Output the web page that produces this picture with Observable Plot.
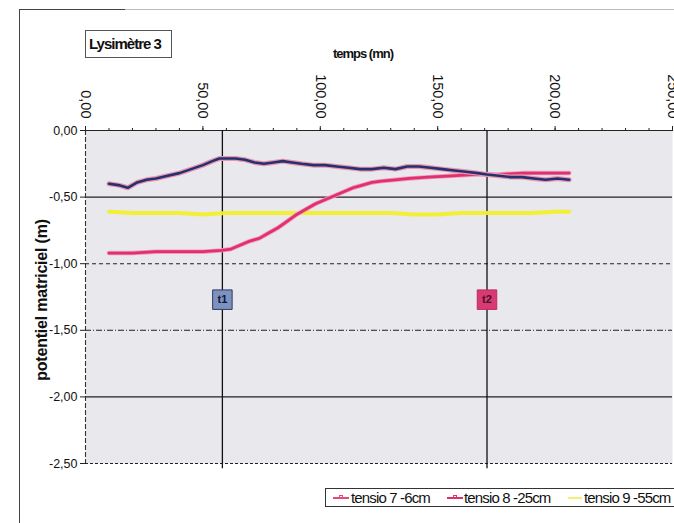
<!DOCTYPE html>
<html>
<head>
<meta charset="utf-8">
<script src="https://cdn.jsdelivr.net/npm/d3@7"></script>
<script src="https://cdn.jsdelivr.net/npm/@observablehq/plot@0.6"></script>
<style>
  html, body { margin: 0; padding: 0; background: #fff; }
  #wrap { position: relative; width: 674px; height: 523px; overflow: hidden; font-family: "Liberation Sans", Arial, sans-serif; }
  #chart { position: absolute; left: 0; top: 0; }
  .abs { position: absolute; }
  #frameTop { left: 19px; top: 9px; width: 106px; height: 0; border-top: 1.5px solid #444; }
  #frameTop2 { left: 125px; top: 9px; width: 560px; height: 0; border-top: 1px solid #bbb; }
  #frameLeft { left: 19px; top: 9px; width: 0; height: 520px; border-left: 1.5px solid #444; }
  #title { left: 85px; top: 30px; width: 87px; height: 28px; border: 1px solid #555; box-sizing: border-box;
           font-weight: bold; font-size: 15px; letter-spacing: -1px; line-height: 26px; padding-left: 3px; color: #111; }
  #xtitle { left: 300px; top: 46px; width: 126px; text-align: center; font-weight: bold; font-size: 13px; letter-spacing: -1px; color: #111; }
  #ytitle { left: 42px; top: 300px; transform: translate(-50%, -50%) rotate(-90deg); white-space: nowrap;
            font-weight: bold; font-size: 16px; color: #111; letter-spacing: -0.2px; }
  #legend { left: 325px; top: 488px; width: 380px; height: 19px; border: 1px solid #333; box-sizing: border-box; }
  .lg { position: absolute; top: 0px; font-size: 15px; letter-spacing: -0.85px; color: #111; white-space: nowrap; line-height: 17px; }
  .sw { position: absolute; top: 8px; height: 0; }
</style>
</head>
<body>
<div id="wrap">
  <div id="chart"></div>
  <div class="abs" id="frameTop"></div>
  <div class="abs" id="frameTop2"></div>
  <div class="abs" id="frameLeft"></div>
  <div class="abs" id="title">Lysimètre 3</div>
  <div class="abs" id="xtitle">temps (mn)</div>
  <div class="abs" id="ytitle">potentiel matriciel (m)</div>
  <div class="abs" id="legend"></div>
</div>
<script>
// ---- data ----
const seriesNames = ["tensio 7 -6cm", "tensio 8 -25cm", "tensio 9 -55cm"];

const t7Time = [10, 14, 18, 22, 26, 30, 35, 40, 45, 50, 54, 57, 60, 64, 68, 72, 76, 80, 84, 88, 92, 97, 102, 107, 112, 117, 122, 127, 132, 137, 142, 147, 152, 157, 162, 167, 171, 176, 181, 186, 191, 196, 201, 206];
const t7Value = [-0.40, -0.41, -0.43, -0.39, -0.37, -0.36, -0.34, -0.32, -0.29, -0.26, -0.23, -0.21, -0.21, -0.21, -0.22, -0.24, -0.25, -0.24, -0.23, -0.24, -0.25, -0.26, -0.26, -0.27, -0.28, -0.29, -0.29, -0.28, -0.29, -0.27, -0.27, -0.28, -0.29, -0.30, -0.31, -0.32, -0.33, -0.34, -0.35, -0.35, -0.36, -0.37, -0.36, -0.37];

const t8Time = [10, 20, 30, 40, 50, 58, 62, 66, 70, 74, 78, 82, 86, 90, 94, 98, 102, 106, 110, 114, 118, 122, 126, 132, 138, 146, 156, 166, 176, 186, 196, 206];
const t8Value = [-0.92, -0.92, -0.91, -0.91, -0.91, -0.90, -0.89, -0.86, -0.83, -0.81, -0.77, -0.73, -0.68, -0.63, -0.59, -0.55, -0.52, -0.49, -0.46, -0.43, -0.41, -0.39, -0.38, -0.37, -0.36, -0.35, -0.34, -0.33, -0.33, -0.32, -0.32, -0.32];

const t9Time = [10, 20, 30, 40, 50, 60, 70, 80, 90, 100, 110, 120, 130, 140, 150, 160, 170, 180, 190, 200, 206];
const t9Value = [-0.61, -0.62, -0.62, -0.62, -0.63, -0.62, -0.62, -0.62, -0.62, -0.62, -0.62, -0.62, -0.62, -0.63, -0.63, -0.62, -0.62, -0.62, -0.62, -0.61, -0.61];

const xTicks = [0, 50, 100, 150, 200, 250];
const xMinorTicks = d3.range(0, 251, 10);
const yTicks = [0, -0.5, -1.0, -1.5, -2.0, -2.5];
const eventNames = ["t1", "t2"];
const eventTimes = [58.3, 171];
const eventLevel = -1.27;

// ---- build tables ----
const toRows = (times, values, name) => times.map((t, i) => ({t, v: values[i], name}));
const s7 = toRows(t7Time, t7Value, seriesNames[0]);
const s8 = toRows(t8Time, t8Value, seriesNames[1]);
const s9 = toRows(t9Time, t9Value, seriesNames[2]);
const events = eventNames.map((n, i) => ({name: n, t: eventTimes[i], v: eventLevel}));

const fr = d => d.toFixed(2).replace(".", ",");
const dashFor = v => v === -1.0 ? "4,3" : v === -1.5 ? "6,2,1,2" : v === -2.5 ? "3,2" : null;

const font = "'Liberation Sans', Arial, sans-serif";
const grid = yTicks.filter(v => v < 0);

const plot = Plot.plot({
  width: 674,
  height: 523,
  marginLeft: 85,
  marginRight: 2,
  marginTop: 130,
  marginBottom: 60,
  style: {fontFamily: font, background: "transparent", overflow: "visible"},
  x: {domain: [0, 250], axis: null, label: null},
  y: {domain: [-2.5, 0], axis: null, label: null},
  marks: [
    Plot.frame({fill: "#e8e8ed", stroke: "none"}),
    // horizontal gridlines
    ...grid.map(v => Plot.ruleY([v], {stroke: "#222", strokeWidth: 1.1, strokeDasharray: dashFor(v)})),
    Plot.ruleY([0], {stroke: "#222", strokeWidth: 1.2}),
    Plot.ruleX([0], {stroke: "#333", strokeWidth: 1.1, strokeDasharray: "5,2"}),
    // event verticals
    Plot.ruleX(events, {x: "t", y1: -2.54, y2: 0, stroke: "#111", strokeWidth: 1.3}),
    // top ticks (minor, crossing the axis line) and major
    Plot.axisX({anchor: "top", ticks: xMinorTicks, tickSize: 3, tickFormat: () => "", stroke: "#222", label: null}),
    Plot.axisX({anchor: "bottom", ticks: xMinorTicks, tickSize: 3, tickFormat: () => "", stroke: "#222", label: null, frameAnchor: "top", dy: -333}),
    Plot.axisX({anchor: "top", ticks: xTicks, tickSize: 5, tickFormat: () => "", stroke: "#222", label: null}),
    Plot.text(xTicks, {x: d => d, frameAnchor: "top", dy: -12, rotate: 90, textAnchor: "end", lineAnchor: "middle",
      text: fr, fontSize: 14.5, fill: "#111"}),
    // left axis ticks & labels
    Plot.axisY({anchor: "left", ticks: yTicks, tickSize: 5, tickPadding: 3, tickFormat: fr, fontSize: 12.5, stroke: "#222", color: "#111", label: null}),
    // series lines
    Plot.line(s9, {x: "t", y: "v", stroke: "#f2f02a", strokeWidth: 4, strokeOpacity: 0.95}),
    Plot.line(s8, {x: "t", y: "v", stroke: "#f29ab8", strokeWidth: 4.5}),
    Plot.line(s8, {x: "t", y: "v", stroke: "#e0306e", strokeWidth: 2.8}),
    Plot.line(s7, {x: "t", y: "v", stroke: "#e895b0", strokeWidth: 5}),
    Plot.line(s7, {x: "t", y: "v", stroke: "#26306e", strokeWidth: 2.6}),
    // event markers
    Plot.dot(events, {x: "t", y: "v", symbol: "square", r: 11, fill: d => d.name === "t1" ? "#7d92bd" : "#d83a72",
      stroke: d => d.name === "t1" ? "#2b3a66" : "#c02a60", strokeWidth: 1}),
    Plot.text(events, {x: "t", y: "v", text: "name", fontSize: 11, fontWeight: "bold",
      fill: d => d.name === "t1" ? "#0d1640" : "#4a0f2a"})
  ]
});
document.getElementById("chart").appendChild(plot);

// ---- legend ----
const legend = document.getElementById("legend");
const legendItems = [
  {name: seriesNames[0], color: "#e8477a", marker: true, sx: 7, sw: 16, tx: 25},
  {name: seriesNames[1], color: "#de2f6c", marker: true, sx: 121, sw: 16, tx: 138},
  {name: seriesNames[2], color: "#f4f070", marker: false, sx: 242, sw: 14, tx: 258}
];
legendItems.forEach(it => {
  const s = document.createElement("div");
  s.className = "sw";
  s.style.left = it.sx + "px";
  s.style.width = it.sw + "px";
  s.style.borderTop = "2px solid " + it.color;
  legend.appendChild(s);
  if (it.marker) {
    const m = document.createElement("div");
    m.className = "sw";
    m.style.left = (it.sx + it.sw / 2 - 2) + "px";
    m.style.top = "6px";
    m.style.width = "4px";
    m.style.height = "4px";
    m.style.border = "1px solid " + it.color;
    m.style.boxSizing = "border-box";
    legend.appendChild(m);
  }
  const t = document.createElement("div");
  t.className = "lg";
  t.style.left = it.tx + "px";
  t.textContent = it.name;
  legend.appendChild(t);
});
</script>
</body>
</html>
